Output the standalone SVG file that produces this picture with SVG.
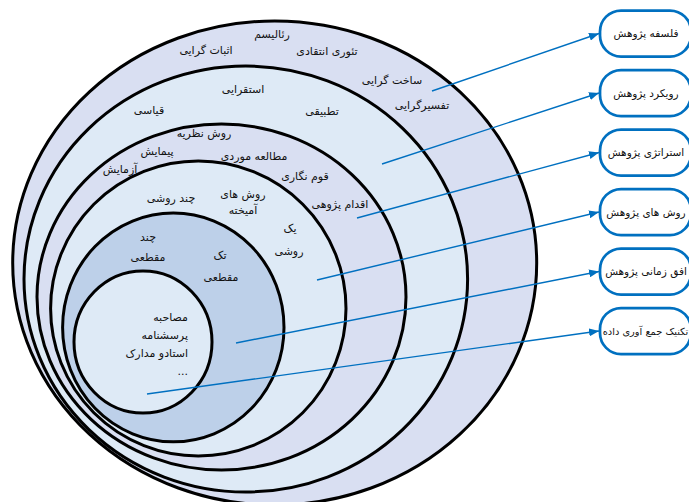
<svg xmlns="http://www.w3.org/2000/svg" width="689" height="502" viewBox="0 0 689 502">
<defs>
<style>
.ring{stroke:#000;stroke-width:3}
.lav{fill:#D9DFF2}
.lt{fill:#DEEAF6}
.dk{fill:#BDD0E9}
.t{font-family:"DejaVu Sans",sans-serif;font-size:11px;fill:#111;text-anchor:middle}
.te{font-family:"DejaVu Sans",sans-serif;font-size:11px;fill:#111;text-anchor:end}
.box{fill:#fff;stroke:#0070C0;stroke-width:2.75}
.bt{font-family:"DejaVu Sans",sans-serif;font-size:10.5px;fill:#111;text-anchor:middle}
.con{stroke:#0070C0;stroke-width:1.4;fill:none;marker-end:url(#arr)}
</style>
<marker id="arr" viewBox="0 0 10 8" refX="10" refY="4" markerWidth="10" markerHeight="8" markerUnits="userSpaceOnUse" orient="auto">
<path d="M0,0 L10,4 L0,8 z" fill="#0070C0"/>
</marker>
</defs>

<g id="philosophy">
<ellipse class="ring lav" cx="274.7" cy="263" rx="262" ry="242"/>
<text class="t" x="272" y="38">رئالیسم</text>
<text class="t" x="206" y="54">اثبات گرایی</text>
<text class="t" x="327" y="55">تئوری انتقادی</text>
<text class="t" x="392" y="84">ساخت گرایی</text>
<text class="t" x="422" y="109">تفسیرگرایی</text>
</g>

<g id="approach">
<ellipse class="ring lt" cx="245.8" cy="279" rx="221.8" ry="213"/>
<text class="t" x="243" y="93">استقرایی</text>
<text class="t" x="149" y="114">قیاسی</text>
<text class="t" x="322" y="115">تطبیقی</text>
</g>

<g id="strategy">
<ellipse class="ring lav" cx="221.5" cy="297" rx="184.5" ry="173"/>
<text class="t" x="204" y="137">روش نظریه</text>
<text class="t" x="157" y="155">پیمایش</text>
<text class="t" x="254" y="160">مطالعه موردی</text>
<text class="t" x="120" y="173">آزمایش</text>
<text class="t" x="305" y="180">قوم نگاری</text>
<text class="t" x="340" y="208">اقدام پژوهی</text>
</g>

<g id="methods">
<ellipse class="ring lt" cx="198.3" cy="308.5" rx="147.7" ry="147.5"/>
<text class="t" x="171" y="202">چند روشی</text>
<text class="t" x="243" y="198">روش های</text>
<text class="t" x="243" y="214">آمیخته</text>
<text class="t" x="290" y="232">یک</text>
<text class="t" x="289" y="255">روشی</text>
</g>

<g id="horizon">
<ellipse class="ring dk" cx="173.3" cy="327.4" rx="110.7" ry="114.4"/>
<text class="t" x="148" y="241">چند</text>
<text class="t" x="148" y="261">مقطعی</text>
<text class="t" x="220" y="259">تک</text>
<text class="t" x="221" y="281">مقطعی</text>
</g>

<g id="techniques">
<ellipse class="ring lt" cx="143" cy="342" rx="69" ry="71"/>
<text class="te" x="188" y="321">مصاحبه</text>
<text class="te" x="188" y="339">پرسشنامه</text>
<text class="te" x="188" y="357">استادو مدارک</text>
<text class="te" x="188" y="375">...</text>
</g>

<g id="connectors">
<line class="con" x1="432" y1="91" x2="599" y2="33.5"/>
<line class="con" x1="382" y1="164" x2="599" y2="93"/>
<line class="con" x1="357" y1="218" x2="599" y2="152.5"/>
<line class="con" x1="317" y1="280" x2="599" y2="212"/>
<line class="con" x1="236" y1="343" x2="599" y2="271.5"/>
<line class="con" x1="147" y1="394" x2="599" y2="331"/>
</g>

<g id="box-philosophy"><rect class="box" x="600" y="10.5" width="91" height="46" rx="21"/><text class="bt" x="646" y="37">فلسفه پژوهش</text></g>
<g id="box-approach"><rect class="box" x="600" y="70" width="91" height="46" rx="21"/><text class="bt" x="646" y="97">رویکرد پژوهش</text></g>
<g id="box-strategy"><rect class="box" x="600" y="129.5" width="91" height="46" rx="21"/><text class="bt" x="646" y="156">استراتژی پژوهش</text></g>
<g id="box-methods"><rect class="box" x="600" y="189" width="91" height="46" rx="21"/><text class="bt" x="646" y="216">روش های پژوهش</text></g>
<g id="box-horizon"><rect class="box" x="600" y="248.5" width="91" height="46" rx="21"/><text class="bt" x="646" y="275">افق زمانی پژوهش</text></g>
<g id="box-techniques"><rect class="box" x="600" y="308" width="91" height="46" rx="21"/><text class="bt" x="645.5" y="335" style="font-size:9.8px">تکنیک جمع آوری داده</text></g>
</svg>
